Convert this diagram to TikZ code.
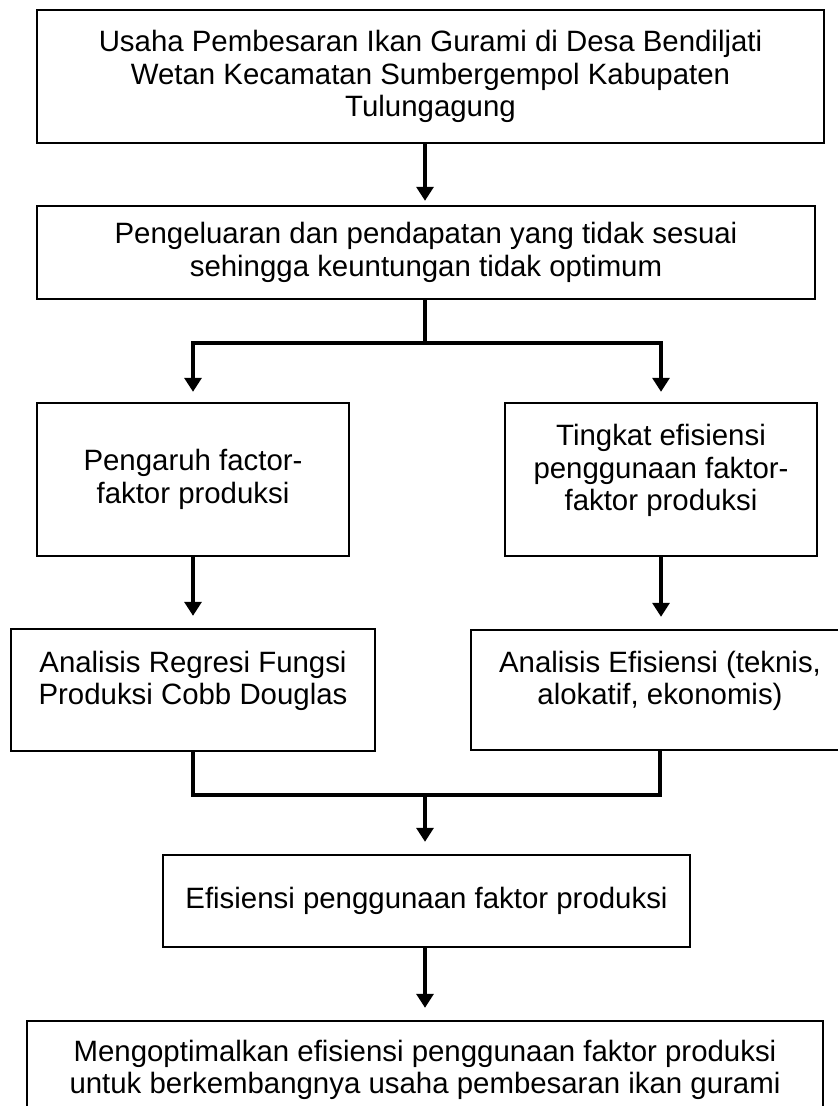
\documentclass[tikz,border=0pt]{standalone}
\usepackage{fontspec}
\setmainfont{Liberation Sans}
\usepackage{tikz}
\usetikzlibrary{arrows.meta}

\begin{document}
\begin{tikzpicture}[x=0.5pt,y=-0.5pt,>={Triangle[length=7pt,width=8.5pt]},
  box/.style={draw,line width=1.2pt,align=center,inner sep=0pt,
    font=\fontsize{14.7pt}{16.3pt}\selectfont},
  raised/.style={text depth=12pt},
  link/.style={line width=1.6pt},
  flow/.style={link,->,shorten >=6pt}]
\path[use as bounding box] (0,0) rectangle (838,1106);
\clip (0,0) rectangle (838,1106);
\node[box,minimum width=393.5pt,minimum height=66.5pt] (usaha) at (430.5,76.5)
  {Usaha Pembesaran Ikan Gurami di Desa Bendiljati\\Wetan Kecamatan Sumbergempol Kabupaten\\Tulungagung};
\node[box,minimum width=389pt,minimum height=46.5pt] (masalah) at (426,252.5)
  {Pengeluaran dan pendapatan yang tidak sesuai\\sehingga keuntungan tidak optimum};
\node[box,minimum width=156pt,minimum height=76.5pt] (pengaruh) at (193,479.5)
  {Pengaruh factor-\\faktor produksi};
\node[box,raised,minimum width=156pt,minimum height=76.5pt] (tingkat) at (661,479.5)
  {Tingkat efisiensi\\penggunaan faktor-\\faktor produksi};
\node[box,raised,minimum width=182pt,minimum height=61pt] (regresi) at (193,690)
  {Analisis Regresi Fungsi\\Produksi Cobb Douglas};
\node[box,raised,minimum width=189pt,minimum height=60pt] (analisis) at (660,690)
  {Analisis Efisiensi (teknis,\\alokatif, ekonomis)};
\node[box,minimum width=263.5pt,minimum height=46pt] (efisiensi) at (426.5,901)
  {Efisiensi penggunaan faktor produksi};
\node[box,minimum width=398pt,minimum height=49pt] (hasil) at (425,1070)
  {Mengoptimalkan efisiensi penggunaan faktor produksi\\untuk berkembangnya usaha pembesaran ikan gurami};
% branch and join points on the middle axis
\coordinate (split) at (425,343);
\coordinate (join) at (425,795);
\draw[flow,shorten >=2pt] (usaha.south -| split) -- (masalah.north -| split);
\draw[link] (masalah.south -| split) -- (split);
\draw[flow,shorten >=5pt] (split) -| (pengaruh.north);
\draw[flow,shorten >=5pt] (split) -| (tingkat.north);
\draw[flow] (pengaruh.south) -- (regresi.north);
\draw[flow] (tingkat.south) -- (tingkat.south |- analisis.north);
\draw[link] (regresi.south) |- (join) -| (analisis.south);
\draw[flow] (join) -- (efisiensi.north -| join);
\draw[flow] (efisiensi.south -| join) -- (hasil.north -| join);
\end{tikzpicture}
\end{document}
